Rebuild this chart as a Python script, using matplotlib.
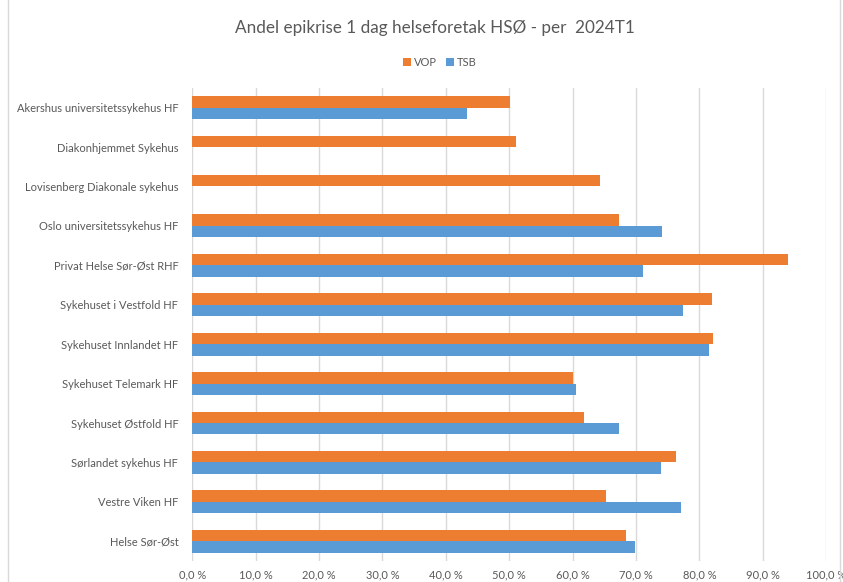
import matplotlib.pyplot as plt
import numpy as np
from matplotlib.patches import Rectangle
from matplotlib.ticker import FuncFormatter

plt.rcParams['font.family'] = ['Lato', 'DejaVu Sans']

# data (andel i %)
units = ['Akershus universitetssykehus HF', 'Diakonhjemmet Sykehus',
         'Lovisenberg Diakonale sykehus', 'Oslo universitetssykehus HF',
         'Privat Helse Sør-Øst RHF', 'Sykehuset i Vestfold HF',
         'Sykehuset Innlandet HF', 'Sykehuset Telemark HF',
         'Sykehuset Østfold HF', 'Sørlandet sykehus HF',
         'Vestre Viken HF', 'Helse Sør-Øst']
vop = [50.2, 51.0, 64.3, 67.3, 94.0, 82.0, 82.2, 60.1, 61.8, 76.3, 65.3, 68.4]
tsb = [43.4, np.nan, np.nan, 74.1, 71.1, 77.4, 81.5, 60.6, 67.4, 74.0, 77.1, 69.8]

c_vop = '#ED7D31'
c_tsb = '#5B9BD5'
txt = '#595959'

fig = plt.figure(figsize=(8.43, 5.82), dpi=100)
ax = fig.add_axes([0.228, 0.036, 0.752, 0.813])

y = np.arange(len(units))
h = 0.29
ax.barh(y - h/2, vop, height=h, color=c_vop, label='VOP', zorder=3)
ax.barh(y + h/2, tsb, height=h, color=c_tsb, label='TSB', zorder=3)

ax.set_ylim(len(units) - 0.5, -0.5)
ax.set_xlim(0, 100)
ax.set_xticks(np.arange(0, 101, 10))
ax.xaxis.set_major_formatter(FuncFormatter(lambda v, p: f'{v:.1f} %'.replace('.', ',')))
ax.set_yticks(y)
ax.set_yticklabels(units)
ax.tick_params(axis='both', length=0, labelsize=8, colors=txt, pad=10)
ax.tick_params(axis='x', pad=6)
ax.xaxis.grid(True, color='#d9d9d9', linewidth=1, zorder=0)
for s in ax.spines.values():
    s.set_visible(False)

fig.suptitle('Andel epikrise 1 dag helseforetak HSØ - per  2024T1',
             x=0.516, y=0.965, fontsize=12.3, color=txt)
fig.legend(loc='center', bbox_to_anchor=(0.522, 0.893), ncol=2, frameon=False,
           fontsize=8, labelcolor=txt, handlelength=0.7, handleheight=0.7,
           handletextpad=0.3, columnspacing=0.8)

# chart area frame
fig.patches.append(Rectangle((8/843, -0.05), 832/843, 1.1, transform=fig.transFigure,
                             fill=False, edgecolor='#d9d9d9', linewidth=1))

fig.savefig('out.png', dpi=100)
